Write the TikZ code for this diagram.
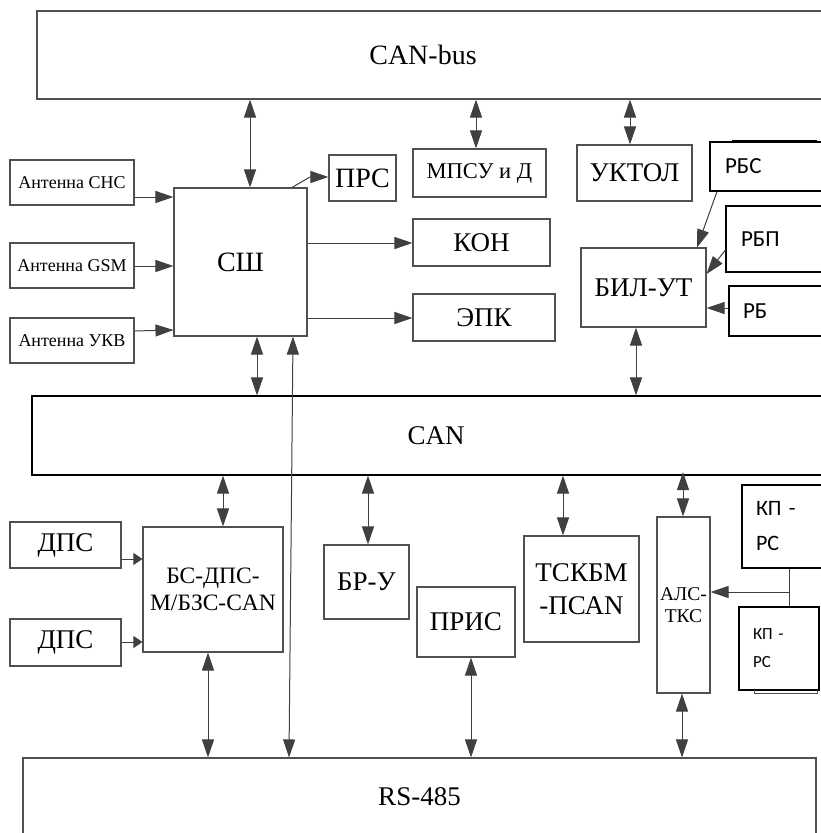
\documentclass[tikz,border=0pt]{standalone}
\usepackage{fontspec}
\setmainfont{Liberation Serif}
\newfontfamily\carl{Carlito}
\usetikzlibrary{arrows.meta}
\definecolor{bc}{HTML}{505050}
\definecolor{lc}{HTML}{404040}
\tikzset{
  box/.style={draw=bc, line width=1.1pt, inner sep=0pt, align=center, font=\fontsize{27}{30}\selectfont},
  kbox/.style={box, draw=black},
  sbox/.style={kbox, align=left, font=\carl\fontsize{23}{28}\selectfont},
  con/.style={draw=lc, line width=1pt},
  a1/.style={con, -{Triangle[length=18pt,width=12pt]}},
  a2/.style={con, {Triangle[length=18pt,width=12pt]}-{Triangle[length=18pt,width=12pt]}},
  as/.style={con, -{Triangle[length=9pt,width=12pt]}}
}
\begin{document}
\begin{tikzpicture}[x=1pt,y=-1pt]
\useasboundingbox (0,0) rectangle (821,833);
\clip (0,0) rectangle (821,833);
\fill[white] (0,0) rectangle (821,833);

% buses
\node[box, minimum width=808pt, minimum height=88pt, font=\fontsize{28}{30}\selectfont] (cb) at (441,55) {\hspace*{-36pt}CAN-bus};
\node[kbox, minimum width=808pt, minimum height=79pt] (can) at (436,435.5) {CAN};
\node[box, minimum width=793pt, minimum height=78pt] (rs) at (419.5,797) {RS-485};

% antennas
\node[box, minimum width=124pt, minimum height=45pt, font=\fontsize{18}{20}\selectfont] (antC) at (72,182.5) {Антенна СНС};
\node[box, minimum width=124pt, minimum height=45pt, font=\fontsize{18}{20}\selectfont] (antG) at (72,265.5) {Антенна GSM};
\node[box, minimum width=124pt, minimum height=45pt, font=\fontsize{18}{20}\selectfont] (antU) at (72,340.5) {Антенна УКВ};

% upper blocks
\node[box, minimum width=133pt, minimum height=148pt, font=\fontsize{28}{30}\selectfont] (sh) at (240.5,262) {СШ};
\node[box, minimum width=67pt, minimum height=46pt, font=\fontsize{28}{30}\selectfont] (prs) at (362.5,178) {ПРС};
\node[box, minimum width=133pt, minimum height=48pt, font=\fontsize{22.5}{25}\selectfont] (mpsu) at (479.5,173) {МПСУ и Д};
\node[box, minimum width=115pt, minimum height=56pt] (uktol) at (634.5,173) {УКТОЛ};
\node[box, minimum width=137pt, minimum height=47pt] (kon) at (481.5,242.5) {КОН};
\node[box, minimum width=142pt, minimum height=47pt] (epk) at (484,317.5) {ЭПК};
\node[box, minimum width=125pt, minimum height=79pt] (bil) at (643.5,287.5) {БИЛ-УТ};
\node[sbox, minimum width=130pt, minimum height=49pt, inner xsep=15pt, text width=100pt] (rbs) at (775,166.5) {РБС};
\node[sbox, minimum width=120pt, minimum height=66pt, inner xsep=15pt, text width=90pt] (rbp) at (786,239) {РБП};
\node[sbox, minimum width=120pt, minimum height=50pt, inner xsep=14pt, text width=92pt] (rb) at (789,311) {РБ};
\draw[black, line width=1.6pt] (732,141) -- (817,141);

% lower blocks
\node[box, minimum width=111pt, minimum height=46pt] (dps1) at (65.5,545) {ДПС};
\node[box, minimum width=111pt, minimum height=47pt] (dps2) at (65.5,642.5) {ДПС};
\node[box, minimum width=140pt, minimum height=125pt, font=\fontsize{23.5}{27}\selectfont] (bs) at (213,589.5) {БС-ДПС-\\М/БЗС-CAN};
\node[box, minimum width=85pt, minimum height=74pt] (bru) at (366.5,582) {БР-У};
\node[box, minimum width=98pt, minimum height=70pt] (pris) at (466,622) {ПРИС};
\node[box, minimum width=115pt, minimum height=106pt, font=\fontsize{27}{33}\selectfont] (tsk) at (581.5,589) {ТСКБМ\\-ПСАN};
\node[box, minimum width=53pt, minimum height=176pt, font=\fontsize{19.5}{22}\selectfont] (als) at (683.5,605) {АЛС-\\ТКС};
\node[sbox, minimum width=108pt, minimum height=83pt, inner xsep=14pt, text width=80pt, font=\carl\fontsize{22}{35}\selectfont] (kp1) at (796,526.5) {КП -\\РС};
\node[sbox, minimum width=80pt, minimum height=83pt, inner xsep=14pt, text width=52pt, font=\carl\fontsize{17}{28}\selectfont] (kp2) at (779,648.5) {КП -\\РС};
\draw[bc, line width=1pt] (754,690) -- (754,693) -- (817,693) -- (817,690);

% connectors: CAN-bus
\draw[a2] (250,0 |- cb.south) -- (250,0 |- sh.north);
\draw[a2] (476,0 |- cb.south) -- (476,0 |- mpsu.north);
\draw[a2] (630,0 |- cb.south) -- (630,0 |- uktol.north);

% antennas to SH
\draw[a1] (antC.east |- 0,197) -- (sh.west |- 0,197);
\draw[a1] (antG.east |- 0,266) -- (sh.west |- 0,266);
\draw[a1] (antU.east |- 0,331) -- (sh.west |- 0,330);

% SH outputs
\draw[a1] (292,0 |- sh.north) -- (310,177) -- (prs.west |- 0,177);
\draw[a1] (sh.east |- 0,243) -- (kon.west |- 0,243);
\draw[a1] (sh.east |- 0,318) -- (epk.west |- 0,318);
\draw[a2] (257,0 |- sh.south) -- (257,0 |- can.north);
\draw[a2] (293,0 |- sh.south) -- (289,0 |- rs.north);

% R-blocks to BIL
\draw[a1] (717,0 |- rbs.south) -- (697,0 |- bil.north);
\draw[a1] (rbp.west |- 0,250) -- (bil.east |- 0,274);
\draw[a1] (rb.west |- 0,308) -- (bil.east |- 0,308);
\draw[a2] (636,0 |- bil.south) -- (636,0 |- can.north);

% CAN to lower blocks
\draw[a2] (223,0 |- can.south) -- (223,0 |- bs.north);
\draw[a2] (368,0 |- can.south) -- (368,0 |- bru.north);
\draw[a2] (563,0 |- can.south) -- (563,0 |- tsk.north);
\draw[a2] (683,472) -- (683,0 |- als.north);

% DPS to BS
\draw[as] (dps1.east |- 0,559) -- (bs.west |- 0,559);
\draw[as] (dps2.east |- 0,642) -- (bs.west |- 0,642);

% lower blocks to RS-485
\draw[a2] (208,0 |- bs.south) -- (208,0 |- rs.north);
\draw[a2] (471,0 |- pris.south) -- (471,0 |- rs.north);
\draw[a2] (682,0 |- als.south) -- (682,0 |- rs.north);

% KP-RS to ALS
\draw[con] (789,0 |- kp1.south) -- (789,0 |- kp2.north);
\draw[a1] (789,592) -- (als.east |- 0,592);
\end{tikzpicture}
\end{document}
